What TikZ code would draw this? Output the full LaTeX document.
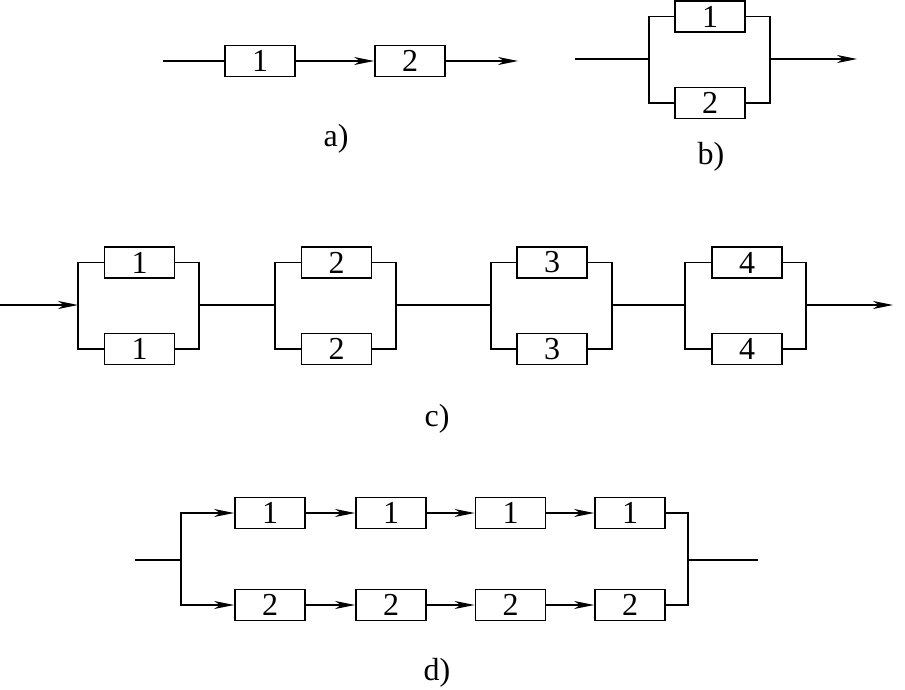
\documentclass[tikz,border=0pt]{standalone}
\usepackage{fontspec}
\setmainfont{Liberation Serif}
\usetikzlibrary{arrows.meta}
\begin{document}
\begin{tikzpicture}[x=1pt,y=-1pt,
  blk/.style={draw, line width=1.9pt, minimum width=70pt, minimum height=31pt, inner sep=0pt, font=\fontsize{32}{34}\selectfont},
  wire/.style={line width=1.3pt},
  arr/.style={wire, -{Stealth[length=20pt,width=8pt,inset=6pt]}},
  lbl/.style={font=\fontsize{32}{34}\selectfont}]
\useasboundingbox (0,0) rectangle (905,690);

% a)
\coordinate (ain) at (163,61);
\coordinate (aout) at (518,61);
\node[blk] (a1) at (260,61) {1};
\node[blk] (a2) at (410,61) {2};
\draw[wire] (ain) -- (a1);
\draw[arr] (a1) -- (a2);
\draw[arr] (a2) -- (aout);
\node[lbl] (alab) at (336,139) {a)};

% b)
\coordinate (bin) at (575,59);
\coordinate (bl) at (649,59);
\coordinate (br) at (770,59);
\coordinate (bout) at (857,59);
\node[blk] (b1) at (710,16.5) {1};
\node[blk] (b2) at (710,103) {2};
\draw[wire] (bin) -- (bl);
\draw[wire] (b1.west) -| (bl) |- (b2.west);
\draw[wire] (b1.east) -| (br) |- (b2.east);
\draw[arr] (br) -- (bout);
\node[lbl] (blab) at (711,157) {b)};

% c)
\coordinate (cin) at (0,305);
\coordinate (c1l) at (78,305);
\coordinate (c1r) at (199,305);
\coordinate (c2l) at (275,305);
\coordinate (c2r) at (396,305);
\coordinate (c3l) at (491,305);
\coordinate (c3r) at (612,305);
\coordinate (c4l) at (685,305);
\coordinate (c4r) at (806,305);
\coordinate (cout) at (893,305);

\node[blk] (c1t) at (139.5,262.5) {1};
\node[blk] (c1b) at (139.5,349) {1};
\node[blk] (c2t) at (336.5,262.5) {2};
\node[blk] (c2b) at (336.5,349) {2};
\node[blk] (c3t) at (552,262.5) {3};
\node[blk] (c3b) at (552,349) {3};
\node[blk] (c4t) at (747,262.5) {4};
\node[blk] (c4b) at (747,349) {4};

\draw[arr] (cin) -- (c1l);
\draw[wire] (c1t.west) -| (c1l) |- (c1b.west);
\draw[wire] (c1t.east) -| (c1r) |- (c1b.east);
\draw[wire] (c1r) -- (c2l);
\draw[wire] (c2t.west) -| (c2l) |- (c2b.west);
\draw[wire] (c2t.east) -| (c2r) |- (c2b.east);
\draw[wire] (c2r) -- (c3l);
\draw[wire] (c3t.west) -| (c3l) |- (c3b.west);
\draw[wire] (c3t.east) -| (c3r) |- (c3b.east);
\draw[wire] (c3r) -- (c4l);
\draw[wire] (c4t.west) -| (c4l) |- (c4b.west);
\draw[wire] (c4t.east) -| (c4r) |- (c4b.east);
\draw[arr] (c4r) -- (cout);
\node[lbl] (clab) at (437,419) {c)};

% d)
\coordinate (din) at (135,560);
\coordinate (dl) at (181,560);
\coordinate (dr) at (688,560);
\coordinate (dout) at (758,560);

\node[blk] (d1t) at (270,513) {1};
\node[blk] (d2t) at (391,513) {1};
\node[blk] (d3t) at (510.5,513) {1};
\node[blk] (d4t) at (630,513) {1};
\node[blk] (d1b) at (270,605) {2};
\node[blk] (d2b) at (391,605) {2};
\node[blk] (d3b) at (510.5,605) {2};
\node[blk] (d4b) at (630,605) {2};

\draw[wire] (din) -- (dl);
\draw[arr] (dl) |- (d1t);
\draw[arr] (dl) |- (d1b);
\draw[arr] (d1t) -- (d2t);
\draw[arr] (d2t) -- (d3t);
\draw[arr] (d3t) -- (d4t);
\draw[arr] (d1b) -- (d2b);
\draw[arr] (d2b) -- (d3b);
\draw[arr] (d3b) -- (d4b);
\draw[wire] (d4t) -| (dr) |- (d4b);
\draw[wire] (dr) -- (dout);
\node[lbl] (dlab) at (437,673) {d)};

\end{tikzpicture}
\end{document}
